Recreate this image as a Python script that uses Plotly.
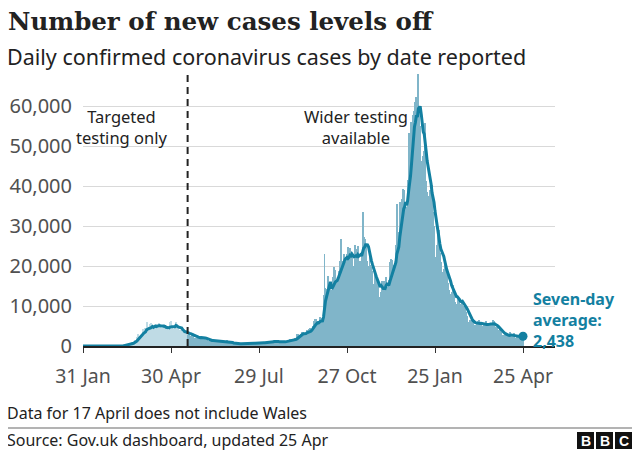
import pandas as pd
import plotly.graph_objects as go

# ---------------- data: daily confirmed cases by date reported ----------------
JAN_2020 = [2]  # 31 Jan
FEB_2020 = [0, 0, 0, 0, 0, 1, 0, 1, 4, 0, 1, 0, 0, 0, 0, 0, 0, 0, 0, 0, 0, 0, 0, 0, 4, 0, 3, 4, 6]
MAR_2020 = [12, 4, 11, 34, 29, 48, 45, 69, 43, 62, 77, 130, 208, 342, 251, 152, 407, 676, 643, 714,
            1035, 665, 967, 1427, 1452, 2129, 2885, 2546, 2433, 2619, 3009]
APR_2020 = [4324, 4244, 4450, 3735, 5903, 3802, 3634, 5491, 4344, 5706, 5233, 4342, 5252, 4603, 4617,
            5599, 5525, 5850, 4676, 4301, 4451, 4583, 5386, 4913, 4463, 4309, 3996, 4076, 6032, 6201]
MAY_2020 = [4806, 4339, 3985, 4406, 6111, 5614, 4649, 3896, 3923, 3877, 3403, 3242, 3446, 3560, 3451,
            3534, 2684, 3142, 2472, 2615, 3287, 2959, 2405, 1625, 2004, 2013, 2095, 2445, 1936, 2445, 1936]
JUN_2020 = [2100, 1950, 1870, 1805, 1650, 1557, 1326, 1205, 1387, 1250, 1266, 1541, 1425, 1514, 1056,
            1279, 1115, 1218, 1346, 1295, 1221, 958, 874, 653, 1118, 1380, 1006, 901, 815, 689]
JUL_2020 = [829, 576, 544, 624, 516, 418, 581, 630, 642, 512, 820, 650, 530, 598, 538, 463, 687, 827,
            796, 560, 445, 560, 769, 767, 768, 747, 685, 581, 763, 846, 880]
AUG_2020 = [744, 743, 938, 670, 892, 950, 871, 758, 1062, 1062, 1148, 1009, 1441, 1522, 1012, 1040, 713,
            1089, 812, 1182, 1033, 1288, 1041, 853, 1048, 1184, 1276, 1522, 1108, 1715, 1406]
SEP_2020 = [1295, 1508, 1735, 1940, 1813, 2988, 2948, 2460, 2659, 2919, 3539, 3497, 3330, 2621, 3105,
            3991, 3395, 4322, 4422, 3899, 4368, 4926, 6178, 6634, 6874, 6042, 5693, 4044, 7143, 7108]
OCT_2020 = [6914, 6968, 12872, 22961, 14542, 14162, 14162, 17540, 13864, 15166, 12872, 13972, 17234,
            19724, 18980, 15650, 16171, 16982, 18804, 21331, 26688, 21242, 20530, 23012, 19790, 20890,
            22885, 24701, 23065, 24405, 21915]
NOV_2020 = [23254, 18950, 20018, 25177, 24141, 23287, 24957, 20572, 21350, 20412, 22950, 33470, 27301,
            26860, 24962, 21363, 20051, 19609, 22915, 20252, 19875, 18662, 15450, 11299, 18213, 17555,
            16022, 15871, 12155, 12330]
DEC_2020 = [13430, 16170, 14879, 16298, 15539, 17272, 14718, 12282, 16578, 20964, 21672, 21502, 18447,
            20263, 18450, 25161, 35383, 28507, 27052, 35928, 33364, 36804, 39237, 39036, 32725, 34693,
            30501, 41385, 53135, 50023, 55892]
JAN_2021 = [53285, 57725, 54990, 58784, 60916, 62322, 52618, 68053, 59937, 54940, 46169, 45533, 47525,
            48682, 55761, 41346, 38598, 37535, 33355, 38905, 37892, 40261, 33552, 30004, 22195, 20089,
            25308, 28680, 29079, 23275, 21088]
FEB_2021 = [18607, 16840, 19202, 20634, 19114, 18262, 15845, 14104, 12364, 13013, 13494, 15144, 13308,
            10972, 9765, 10625, 12718, 12057, 12027, 10406, 9834, 10641, 8489, 9938, 9985, 8523, 7434, 6035]
MAR_2021 = [5455, 6391, 6385, 6573, 6040, 5177, 5177, 4712, 5766, 6305, 6609, 5534, 5672, 4618, 5089,
            5294, 5758, 6303, 4802, 5587, 5312, 5342, 5379, 5605, 6397, 6187, 4715, 3862, 4654, 4052, 4040]
APR_2021 = [4479, 3423, 3402, 2297, 2762, 2379, 2763, 3150, 3030, 2589, 1730, 3568, 2472, 2491, 2672,
            3145, 1882, 1882, 2524, 2396, 2729, 2678, 2596, 2082, 2061]

MONTHS = [
    ("2020-01-31", JAN_2020), ("2020-02-01", FEB_2020), ("2020-03-01", MAR_2020),
    ("2020-04-01", APR_2020), ("2020-05-01", MAY_2020), ("2020-06-01", JUN_2020),
    ("2020-07-01", JUL_2020), ("2020-08-01", AUG_2020), ("2020-09-01", SEP_2020),
    ("2020-10-01", OCT_2020), ("2020-11-01", NOV_2020), ("2020-12-01", DEC_2020),
    ("2021-01-01", JAN_2021), ("2021-02-01", FEB_2021), ("2021-03-01", MAR_2021),
    ("2021-04-01", APR_2021),
]

TICK_DATES = ["2020-01-31", "2020-04-30", "2020-07-29", "2020-10-27", "2021-01-25", "2021-04-25"]
TICK_LABELS = ["31 Jan", "30 Apr", "29 Jul", "27 Oct", "25 Jan", "25 Apr"]
Y_TICKS = [0, 10000, 20000, 30000, 40000, 50000, 60000]
WIDER_TESTING_DATE = "2020-05-17"

# ---------------- build series ----------------
frames = [pd.Series(vals, index=pd.date_range(start, periods=len(vals), freq="D")) for start, vals in MONTHS]
cases = pd.concat(frames)
avg7 = cases.rolling(7, min_periods=1).mean()

# ---------------- layout geometry (screen pixels; page body has an 8px margin) ----------------
OFF = 8
SCREEN_W, SCREEN_H = 640, 451
W, H = SCREEN_W - OFF, SCREEN_H - OFF
PLOT_LEFT, PLOT_RIGHT, PLOT_TOP, PLOT_BOTTOM = 83, 555, 74, 346
L, R = PLOT_LEFT - OFF, SCREEN_W - PLOT_RIGHT
T, B = PLOT_TOP - OFF, SCREEN_H - PLOT_BOTTOM
PW, PH = PLOT_RIGHT - PLOT_LEFT, PLOT_BOTTOM - PLOT_TOP
TEAL = "#1380A1"
SANS = "Noto Sans"


def px(x):
    return (x - PLOT_LEFT) / PW


def py(y):
    return (PLOT_BOTTOM - y) / PH


bar_colors = ["#bfdbe5" if d < pd.Timestamp(WIDER_TESTING_DATE) else "#80b5c9" for d in cases.index]

fig = go.Figure()
fig.add_trace(go.Bar(x=cases.index, y=cases.values, marker=dict(color=bar_colors, line=dict(width=0)),
                     hoverinfo="skip"))
fig.add_trace(go.Scatter(x=avg7.index, y=avg7.values, mode="lines",
                         line=dict(color=TEAL, width=3), hoverinfo="skip"))
fig.add_trace(go.Scatter(x=[avg7.index[-1]], y=[avg7.values[-1]], mode="markers",
                         marker=dict(color=TEAL, size=9), hoverinfo="skip"))

x_start = pd.Timestamp("2020-01-31")
x_end = x_start + pd.Timedelta(days=PW / (88 / 90))

fig.update_layout(
    width=W, height=H, margin=dict(l=L, r=R, t=T, b=B, autoexpand=False),
    paper_bgcolor="white", plot_bgcolor="white", showlegend=False, bargap=0,
    xaxis=dict(type="date", range=[x_start, x_end], tickvals=TICK_DATES, ticktext=TICK_LABELS,
               showgrid=False, showline=True, linecolor="#222", linewidth=2, ticks="outside",
               ticklen=5, tickwidth=1, tickcolor="#333", ticklabelstandoff=7,
               tickfont=dict(family=SANS, size=19.5, color="#505050"), zeroline=False),
    yaxis=dict(range=[0, 68000], tickvals=Y_TICKS, tickformat=",", showgrid=True,
               gridcolor="#d9d9d9", gridwidth=1, zeroline=False, showline=False, ticks="",
               ticklabelstandoff=10, tickfont=dict(family=SANS, size=20, color="#505050")),
    font=dict(family=SANS, color="#222"),
)

fig.add_shape(type="line", xref="x", yref="paper", x0=WIDER_TESTING_DATE, x1=WIDER_TESTING_DATE,
              y0=0, y1=1, line=dict(color="#222", width=2, dash="7px,5px"))

ann = []


def text(x, y, s, size, color="#222", anchor="left", family=SANS, bold=False, align="left"):
    if bold:
        s = "<b>" + s + "</b>"
    ann.append(dict(x=px(x), y=py(y), xref="paper", yref="paper", text=s, showarrow=False,
                    xanchor=anchor, yanchor="middle", align=align,
                    font=dict(family=family, size=size, color=color)))


text(6, 21, "Number of new cases levels off", 24.5, family="DejaVu Serif", bold=True)
text(5, 56, "Daily confirmed coronavirus cases by date reported", 21.5)
text(121, 127, "Targeted<br>testing only", 16.5, anchor="center", align="center")
text(356, 127, "Wider testing<br>available", 16.5, anchor="center", align="center")
text(531, 320, f"Seven-day<br>average:<br>{avg7.values[-1]:,.0f}", 16, color=TEAL, bold=True)
text(5, 413, "Data for 17 April does not include Wales", 16)
text(5, 440, "Source: Gov.uk dashboard, updated 25 Apr", 16)

# separator line
fig.add_shape(type="line", xref="paper", yref="paper", x0=px(OFF), x1=px(SCREEN_W), y0=py(428),
              y1=py(428), line=dict(color="#9a9a9a", width=1.5))
# BBC blocks
for i, letter in enumerate(["B", "B", "C"]):
    x0 = 577 + i * 19
    fig.add_shape(type="rect", xref="paper", yref="paper", x0=px(x0), x1=px(x0 + 17),
                  y0=py(449), y1=py(432), fillcolor="#111", line=dict(width=0))
    text(x0 + 8.5, 441, letter, 14, color="white", anchor="center", family="Liberation Sans", bold=True)

fig.update_layout(annotations=ann)
fig.write_html("out.html")
